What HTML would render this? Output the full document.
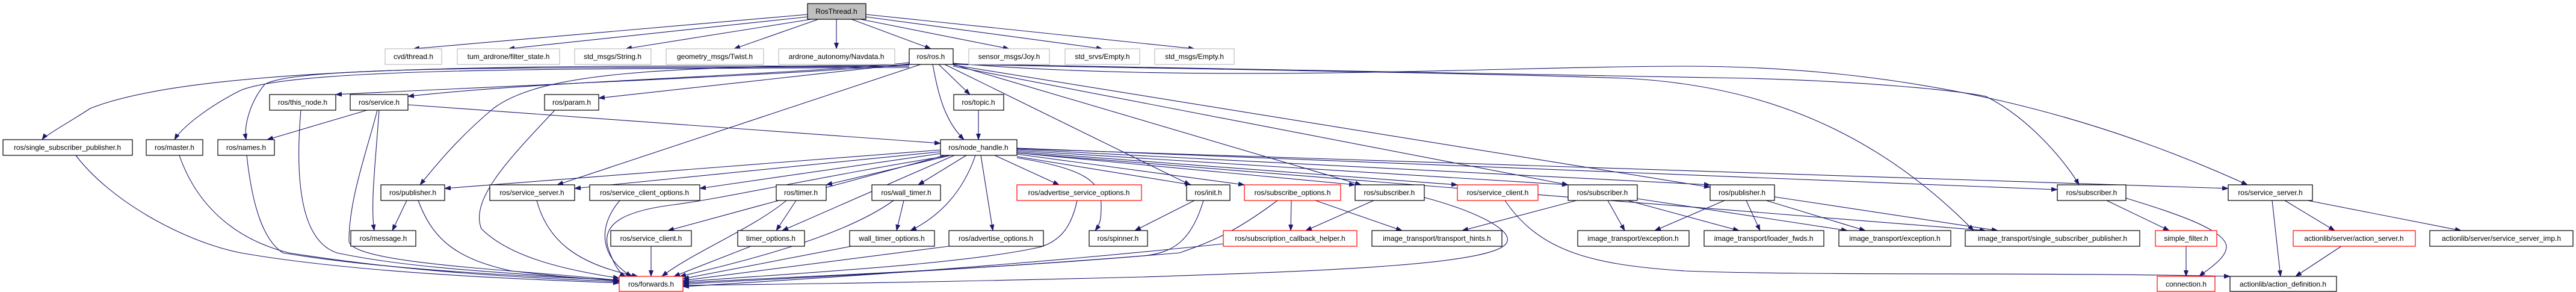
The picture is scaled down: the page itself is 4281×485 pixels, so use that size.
<!DOCTYPE html>
<html><head><meta charset="utf-8"><style>
html,body{margin:0;padding:0;background:#fff;width:4281px;height:485px;overflow:hidden}
svg{display:block}
text{font-family:"Liberation Sans",Arial,sans-serif;font-size:12px;fill:#000}
.e{fill:none;stroke:#191970;stroke-width:1.1}
.n{fill:#fff;stroke:#000;stroke-width:1.2}
.g{fill:#fff;stroke:#bfbfbf;stroke-width:1.2}
.r{fill:#fff;stroke:#ff0000;stroke-width:1.2}
</style></head><body>
<svg width="4281" height="485" viewBox="0 0 4281 485" xmlns="http://www.w3.org/2000/svg">
<defs><marker id="a" markerWidth="11" markerHeight="8" refX="10" refY="4" orient="auto" markerUnits="userSpaceOnUse"><path d="M0,0 L11,4 L0,8 z" fill="#191970"/></marker></defs>
<g class="e" marker-end="url(#a)">
<path d="M1342 24 L687 81"/><path d="M1342 28 L845 81"/><path d="M1348 32 L1040 81"/><path d="M1360 32 L1220 81"/><path d="M1390 32 L1390 81"/><path d="M1415 32 L1547 81"/><path d="M1430 32 L1677 81"/><path d="M1439 28 L1832 81"/><path d="M1439 24 L1985 81"/>
<path d="M1511 107 C1300 125 900 140 558 157"/><path d="M1511 104 C1300 125 900 135 678 160"/><path d="M1511 106 C1300 130 1100 150 995 163"/>
<path d="M1560 107 L1612 157"/><path d="M1511 110 C1000 110 350 100 150 180 C120 200 75 225 70 232"/>
<path d="M1511 112 C1000 115 500 110 400 150 C340 180 300 215 290 232"/><path d="M1511 110 C1000 115 500 105 440 140 C415 170 405 210 409 232"/>
<path d="M1550 107 C1560 160 1570 200 1602 232"/><path d="M1511 108 C1100 110 900 120 820 180 C760 230 720 280 698 307"/>
<path d="M1530 107 L926 307"/><path d="M1570 107 L1978 307"/><path d="M1584 107 L2262 307"/><path d="M1584 110 L2606 307"/><path d="M1584 108 L2842 311"/>
<path d="M1584 107 C2000 115 2400 120 2700 130 C2900 140 3100 200 3280 383"/><path d="M1584 106 C2200 120 2700 125 2900 130 C3100 135 3250 150 3300 160 C3380 200 3440 280 3455 307"/>
<path d="M1584 105 C2000 140 2500 110 2800 110 C3200 110 3500 200 3735 307"/>
<path d="M610 183 L444 232"/><path d="M678 174 L1563 238"/><path d="M627 183 C610 250 580 330 580 400 C580 440 900 450 1029 466"/><path d="M630 183 C625 260 615 340 622 383"/>
<path d="M500 183 C490 300 500 400 560 420 C700 450 900 455 1029 467"/><path d="M922 183 C850 260 780 330 800 380 C850 430 950 450 1029 462"/>
<path d="M1626 183 L1626 232"/>
<path d="M126 258 C180 330 300 400 400 420 C600 455 900 465 1029 470"/><path d="M298 258 C330 350 400 400 480 420 C700 455 900 462 1029 468"/><path d="M410 258 C420 350 440 400 470 420 C650 450 900 460 1029 465"/>
<path d="M1563 249 L739 313"/><path d="M1563 252 L955 313"/><path d="M1563 255 L1163 313"/><path d="M1570 258 L1110 383"/>
<path d="M1580 258 L1373 307"/><path d="M1586 258 L1300 383"/><path d="M1606 258 L1526 307"/><path d="M1621 258 C1600 320 1560 360 1513 383"/>
<path d="M1630 258 L1650 383"/><path d="M1653 258 L1760 307"/><path d="M1690 260 L1980 307"/><path d="M1690 262 C1800 280 1830 300 1830 340 C1830 360 1830 370 1820 383"/>
<path d="M1690 256 L2068 307"/><path d="M1690 254 L2252 307"/><path d="M1690 252 L2422 307"/><path d="M1690 250 L2606 307"/><path d="M1690 248 L2842 307"/>
<path d="M1690 246 L3419 315"/><path d="M1690 247 L3703 313"/><path d="M1690 254 L3300 383"/>
<path d="M1580 258 C1380 290 1200 330 1120 340 C1040 350 1000 370 1010 410 C1020 440 1030 455 1040 459"/>
<path d="M676 333 L652 383"/><path d="M695 333 C720 400 760 430 850 450 C950 462 1000 465 1029 465"/><path d="M892 333 C910 400 960 440 1060 459"/><path d="M1030 333 C990 380 1000 430 1050 459"/>
<path d="M1082 409 L1082 459"/><path d="M1323 333 L1290 383"/><path d="M1307 333 C1250 380 1150 420 1100 459"/><path d="M1248 409 L1120 459"/>
<path d="M1502 333 L1490 383"/><path d="M1485 333 C1420 380 1300 420 1130 459"/><path d="M1415 409 L1135 463"/><path d="M1577 409 L1135 466"/>
<path d="M1790 333 C1780 380 1760 400 1730 410 C1600 440 1300 455 1135 468"/><path d="M1985 333 L1886 383"/><path d="M2000 333 C1980 400 1950 420 1900 425 C1600 450 1300 460 1135 470"/>
<path d="M2123 333 C2060 380 2020 400 1960 420 C1600 450 1300 462 1135 472"/><path d="M2146 333 L2145 383"/><path d="M2186 333 L2330 383"/>
<path d="M2283 333 L2170 383"/><path d="M2367 328 C2450 350 2510 380 2505 400 C2500 440 2200 450 1900 460 C1500 470 1300 472 1135 474"/>
<path d="M2501 333 C2560 420 2650 440 2800 450 C3000 458 3400 452 3706 459"/><path d="M2033 405 C1700 440 1400 460 1135 476"/>
<path d="M2620 333 L2430 383"/><path d="M2672 333 L2700 383"/><path d="M2705 333 L2890 383"/><path d="M2721 330 L3070 383"/>
<path d="M2866 333 L2750 383"/><path d="M2902 333 L2925 383"/><path d="M2935 333 L3100 383"/><path d="M2949 327 L3320 383"/>
<path d="M3501 333 L3605 383"/><path d="M3533 329 C3600 350 3700 380 3700 410 C3700 430 3665 450 3655 459"/><path d="M3633 409 L3633 459"/>
<path d="M3776 333 L3790 459"/><path d="M3797 333 L3880 383"/><path d="M3835 333 L4090 383"/><path d="M3891 409 L3815 459"/>
</g>
<g>
<rect class="n" x="1342" y="6" width="97" height="26" style="fill:#bfbfbf"/>
<rect class="g" x="640" y="81" width="94" height="26"/><rect class="g" x="760" y="81" width="170" height="26"/><rect class="g" x="955" y="81" width="127" height="26"/>
<rect class="g" x="1107" y="81" width="162" height="26"/><rect class="g" x="1294" y="81" width="193" height="26"/><rect class="n" x="1511" y="81" width="73" height="26"/>
<rect class="g" x="1610" y="81" width="134" height="26"/><rect class="g" x="1770" y="81" width="124" height="26"/><rect class="g" x="1919" y="81" width="132" height="26"/>
<rect class="n" x="448" y="157" width="110" height="26"/><rect class="n" x="582" y="157" width="96" height="26"/><rect class="n" x="905" y="157" width="90" height="26"/><rect class="n" x="1585" y="157" width="83" height="26"/>
<rect class="n" x="5" y="232" width="215" height="26"/><rect class="n" x="243" y="232" width="94" height="26"/><rect class="n" x="362" y="232" width="94" height="26"/><rect class="n" x="1563" y="232" width="127" height="26"/>
<rect class="n" x="633" y="307" width="106" height="26"/><rect class="n" x="814" y="307" width="141" height="26"/><rect class="n" x="980" y="307" width="183" height="26"/>
<rect class="n" x="1290" y="307" width="83" height="26"/><rect class="n" x="1449" y="307" width="114" height="26"/><rect class="r" x="1690" y="307" width="207" height="26"/>
<rect class="n" x="1972" y="307" width="72" height="26"/><rect class="r" x="2068" y="307" width="160" height="26"/><rect class="n" x="2252" y="307" width="115" height="26"/>
<rect class="r" x="2422" y="307" width="134" height="26"/><rect class="n" x="2606" y="307" width="115" height="26"/><rect class="n" x="2842" y="307" width="107" height="26"/>
<rect class="n" x="3419" y="307" width="114" height="26"/><rect class="n" x="3703" y="307" width="140" height="26"/>
<rect class="n" x="583" y="383" width="108" height="26"/><rect class="n" x="1015" y="383" width="134" height="26"/><rect class="n" x="1226" y="383" width="111" height="26"/>
<rect class="n" x="1412" y="383" width="141" height="26"/><rect class="n" x="1577" y="383" width="157" height="26"/><rect class="n" x="1810" y="383" width="97" height="26"/>
<rect class="r" x="2033" y="383" width="222" height="26"/><rect class="n" x="2280" y="383" width="216" height="26"/><rect class="n" x="2622" y="383" width="185" height="26"/>
<rect class="n" x="2832" y="383" width="199" height="26"/><rect class="n" x="3056" y="383" width="186" height="26"/><rect class="n" x="3266" y="383" width="290" height="26"/>
<rect class="r" x="3582" y="383" width="102" height="26"/><rect class="r" x="3811" y="383" width="203" height="26"/><rect class="n" x="4038" y="383" width="238" height="26"/>
<rect class="r" x="1029" y="459" width="106" height="25"/><rect class="r" x="3585" y="459" width="96" height="25"/><rect class="n" x="3706" y="459" width="177" height="25"/>
</g>
<g text-anchor="middle">
<text x="1390" y="23">RosThread.h</text>
<text x="687" y="98">cvd/thread.h</text><text x="845" y="98">tum_ardrone/filter_state.h</text><text x="1018" y="98">std_msgs/String.h</text>
<text x="1188" y="98">geometry_msgs/Twist.h</text><text x="1390" y="98">ardrone_autonomy/Navdata.h</text><text x="1547" y="98">ros/ros.h</text>
<text x="1677" y="98">sensor_msgs/Joy.h</text><text x="1832" y="98">std_srvs/Empty.h</text><text x="1985" y="98">std_msgs/Empty.h</text>
<text x="503" y="174">ros/this_node.h</text><text x="630" y="174">ros/service.h</text><text x="950" y="174">ros/param.h</text><text x="1626" y="174">ros/topic.h</text>
<text x="112" y="249">ros/single_subscriber_publisher.h</text><text x="290" y="249">ros/master.h</text><text x="409" y="249">ros/names.h</text><text x="1626" y="249">ros/node_handle.h</text>
<text x="686" y="324">ros/publisher.h</text><text x="884" y="324">ros/service_server.h</text><text x="1071" y="324">ros/service_client_options.h</text>
<text x="1331" y="324">ros/timer.h</text><text x="1506" y="324">ros/wall_timer.h</text><text x="1793" y="324">ros/advertise_service_options.h</text>
<text x="2008" y="324">ros/init.h</text><text x="2148" y="324">ros/subscribe_options.h</text><text x="2309" y="324">ros/subscriber.h</text>
<text x="2489" y="324">ros/service_client.h</text><text x="2663" y="324">ros/subscriber.h</text><text x="2895" y="324">ros/publisher.h</text>
<text x="3476" y="324">ros/subscriber.h</text><text x="3773" y="324">ros/service_server.h</text>
<text x="637" y="400">ros/message.h</text><text x="1082" y="400">ros/service_client.h</text><text x="1281" y="400">timer_options.h</text>
<text x="1482" y="400">wall_timer_options.h</text><text x="1655" y="400">ros/advertise_options.h</text><text x="1858" y="400">ros/spinner.h</text>
<text x="2144" y="400">ros/subscription_callback_helper.h</text><text x="2388" y="400">image_transport/transport_hints.h</text><text x="2714" y="400">image_transport/exception.h</text>
<text x="2931" y="400">image_transport/loader_fwds.h</text><text x="3149" y="400">image_transport/exception.h</text><text x="3411" y="400">image_transport/single_subscriber_publisher.h</text>
<text x="3633" y="400">simple_filter.h</text><text x="3912" y="400">actionlib/server/action_server.h</text><text x="4157" y="400">actionlib/server/service_server_imp.h</text>
<text x="1082" y="476">ros/forwards.h</text><text x="3633" y="476">connection.h</text><text x="3794" y="476">actionlib/action_definition.h</text>
</g>
</svg>
</body></html>
